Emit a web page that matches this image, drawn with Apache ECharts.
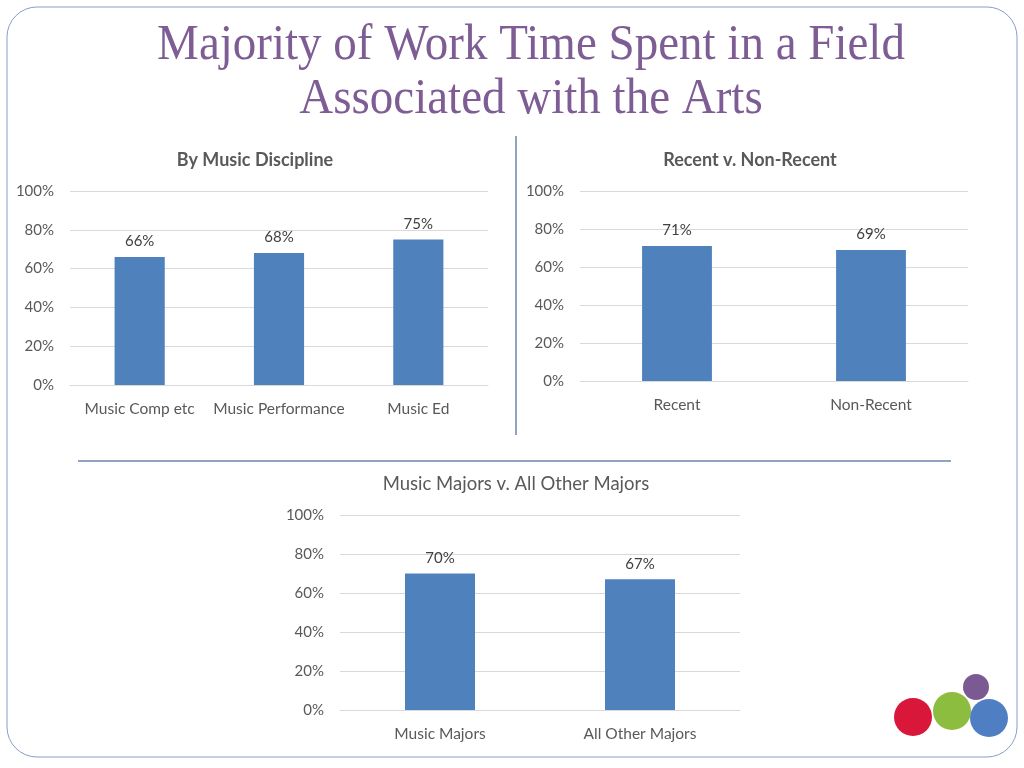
<!DOCTYPE html>
<html><head><meta charset="utf-8">
<script src="https://cdn.jsdelivr.net/npm/echarts@6/dist/echarts.min.js"></script>
<style>html,body{margin:0;padding:0;background:#fff}#c{width:1024px;height:768px}</style>
</head><body><div id="c"></div>
<script>
// ---- data ----
const mainTitleLines = ['Majority of Work Time Spent in a Field', 'Associated with the Arts'];
const chartTitles = ['By Music Discipline', 'Recent v. Non-Recent', 'Music Majors v. All Other Majors'];
const disciplineCats = ['Music Comp etc', 'Music Performance', 'Music Ed'];
const disciplineVals = [66, 68, 75];
const recentCats = ['Recent', 'Non-Recent'];
const recentVals = [71, 69];
const majorsCats = ['Music Majors', 'All Other Majors'];
const majorsVals = [70, 67];
const yTicks = [0, 20, 40, 60, 80, 100];

const FONT = 'Lato';
const TXT = '#595959';
const BAR = '#4f81bd';
const GRID = '#d9d9d9';

const grids = [
  {left: 70, top: 191, width: 418, height: 194},
  {left: 580, top: 191, width: 388, height: 190},
  {left: 340, top: 515, width: 400, height: 195}
];
const cats = [disciplineCats, recentCats, majorsCats];
const vals = [disciplineVals, recentVals, majorsVals];
const barW = ['36%', '36%', '35%'];

const chart = echarts.init(document.getElementById('c'), null, {renderer: 'canvas'});
const option = {
  animation: false,
  backgroundColor: '#fff',
  grid: grids.map(g => Object.assign({containLabel: false}, g)),
  xAxis: cats.map((c, i) => ({
    type: 'category', gridIndex: i, data: c,
    axisLine: {show: true, lineStyle: {color: GRID, width: 1}},
    axisTick: {show: false},
    axisLabel: {color: TXT, fontFamily: FONT, fontSize: 15.5, margin: 16, interval: 0}
  })),
  yAxis: cats.map((c, i) => ({
    type: 'value', gridIndex: i, min: yTicks[0], max: yTicks[yTicks.length - 1], interval: 20,
    axisLine: {show: false}, axisTick: {show: false},
    splitLine: {lineStyle: {color: GRID, width: 1}},
    axisLabel: {color: TXT, fontFamily: FONT, fontSize: 15, margin: 16, formatter: '{value}%'}
  })),
  series: vals.map((v, i) => ({
    type: 'bar', xAxisIndex: i, yAxisIndex: i, data: v, barWidth: barW[i],
    itemStyle: {color: BAR},
    label: {show: true, position: 'top', distance: 8, color: '#404040', fontFamily: FONT, fontSize: 15, formatter: '{c}%'}
  })),
  graphic: [
    {type: 'rect', shape: {x: 7, y: 7, width: 1010, height: 750, r: 30}, style: {fill: 'none', stroke: '#8b9cc6', lineWidth: 1}, z: 0},
    {type: 'text', x: 531, y: 46, scaleY: 1.08, style: {text: mainTitleLines[0], fill: '#7e5c94', font: '47px "Liberation Serif"', textAlign: 'center', textVerticalAlign: 'middle'}},
    {type: 'text', x: 531, y: 100, scaleY: 1.08, style: {text: mainTitleLines[1], fill: '#7e5c94', font: '47px "Liberation Serif"', textAlign: 'center', textVerticalAlign: 'middle'}},
    {type: 'line', shape: {x1: 516, y1: 136, x2: 516, y2: 435}, style: {stroke: '#6a86b2', lineWidth: 1.5}},
    {type: 'line', shape: {x1: 78, y1: 461, x2: 951, y2: 461}, style: {stroke: '#6a86b2', lineWidth: 1.5}},
    {type: 'text', x: 255, y: 160, style: {text: chartTitles[0], fill: TXT, font: 'bold 18px ' + FONT, textAlign: 'center', textVerticalAlign: 'middle'}},
    {type: 'text', x: 750, y: 160, style: {text: chartTitles[1], fill: TXT, font: 'bold 18px ' + FONT, textAlign: 'center', textVerticalAlign: 'middle'}},
    {type: 'text', x: 516, y: 484, style: {text: chartTitles[2], fill: TXT, font: '18.5px ' + FONT, textAlign: 'center', textVerticalAlign: 'middle'}},
    {type: 'circle', shape: {cx: 913, cy: 717, r: 19}, style: {fill: '#d8173a'}},
    {type: 'circle', shape: {cx: 952, cy: 711, r: 19}, style: {fill: '#8cbd3f'}},
    {type: 'circle', shape: {cx: 989, cy: 718, r: 19}, style: {fill: '#4f7fc2'}},
    {type: 'circle', shape: {cx: 976, cy: 687, r: 13}, style: {fill: '#7b5993'}}
  ]
};
chart.setOption(option);
</script></body></html>
